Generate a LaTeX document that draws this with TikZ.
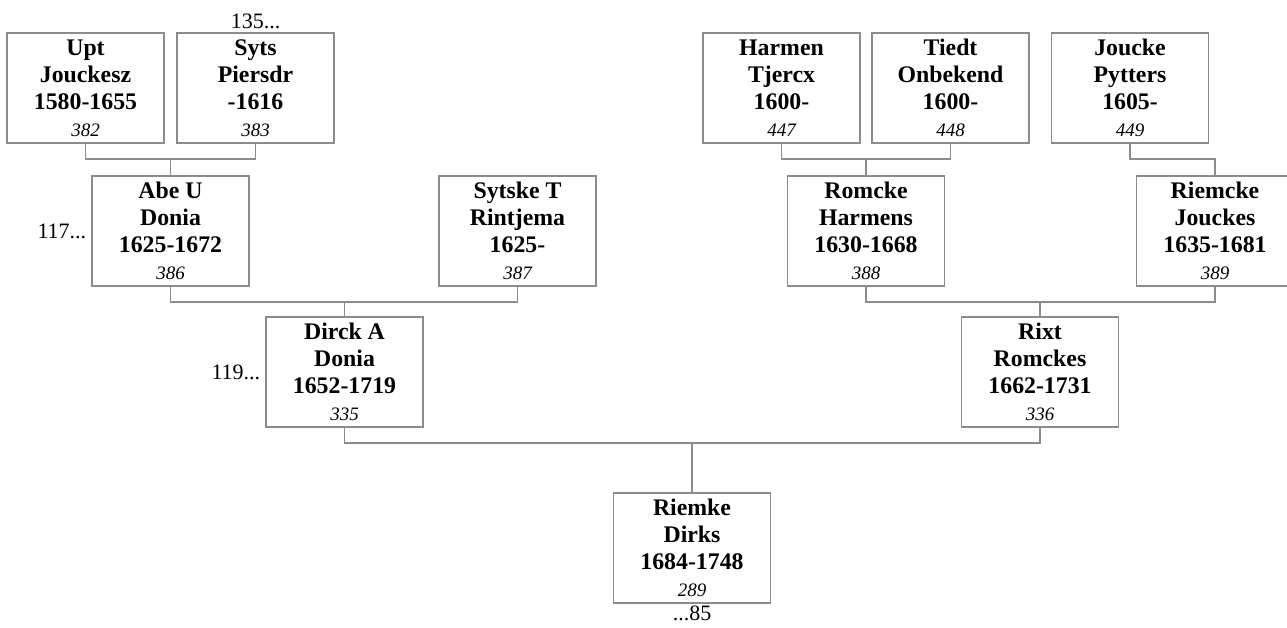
\documentclass[tikz,border=0pt]{standalone}
\usepackage{fontspec}
\setmainfont{Liberation Serif}
\usetikzlibrary{positioning}

\definecolor{boxgray}{RGB}{140,140,140}

\tikzset{
	indiv/.style={draw=boxgray, line width=1.2pt, minimum width=157pt, minimum height=110pt,
		align=center, inner sep=0pt, font=\fontsize{23.8}{27}\selectfont\bfseries},
	link/.style={draw=boxgray, line width=1.2pt},
	more/.style={inner sep=1pt, font=\fontsize{22}{24}\selectfont}
}
\newcommand{\idnum}[1]{{\mdseries\itshape\fontsize{19}{24}\selectfont #1}}

\begin{document}
\begin{tikzpicture}[x=1pt, y=-1pt]
	
	\useasboundingbox (0,0) rectangle (1287,628);
	
	% Generation 4
	\node[indiv] (upt)    at (85.5,88)   {Upt\\Jouckesz\\1580-1655\\\idnum{382}};
	\node[indiv] (syts)   at (255.5,88)  {Syts\\Piersdr\\-1616\\\idnum{383}};
	\node[indiv] (harmen) at (781.5,88)  {Harmen\\Tjercx\\1600-\\\idnum{447}};
	\node[indiv] (tiedt)  at (950.5,88)  {Tiedt\\Onbekend\\1600-\\\idnum{448}};
	\node[indiv] (joucke) at (1130,88)   {Joucke\\Pytters\\1605-\\\idnum{449}};
	
	% Generation 3
	\node[indiv] (abe)     at (170.5,231) {Abe U\\Donia\\1625-1672\\\idnum{386}};
	\node[indiv] (sytske)  at (517.5,231) {Sytske T\\Rintjema\\1625-\\\idnum{387}};
	\node[indiv] (romcke)  at (866,231)   {Romcke\\Harmens\\1630-1668\\\idnum{388}};
	\node[indiv] (riemcke) at (1215,231)  {Riemcke\\Jouckes\\1635-1681\\\idnum{389}};
	
	% Generation 2
	\node[indiv] (dirck) at (344.5,372) {Dirck A\\Donia\\1652-1719\\\idnum{335}};
	\node[indiv] (rixt)  at (1040,372)  {Rixt\\Romckes\\1662-1731\\\idnum{336}};
	
	% Generation 1
	\node[indiv] (riemke) at (692,548) {Riemke\\Dirks\\1684-1748\\\idnum{289}};
	
	% Continuation marks
	\node[more, above=2pt of syts]   {135...};
	\node[more, left=4pt of abe]     {117...};
	\node[more, left=4pt of dirck]   {119...};
	\node[more, below=1pt of riemke] {...85};
	
	% Family junctions
	\coordinate (famabe)     at (abe.north |- 0,159);
	\coordinate (famromcke)  at (romcke.north |- 0,159);
	\coordinate (famriemcke) at (riemcke.north |- 0,159);
	\coordinate (famdirck)   at (dirck.north |- 0,302);
	\coordinate (famrixt)    at (rixt.north |- 0,302);
	\coordinate (famriemke)  at (riemke.north |- 0,443);
	
	% Parent links
	\draw[link] (upt.south) |- (famabe) -| (syts.south);
	\draw[link] (famabe) -- (abe.north);
	\draw[link] (harmen.south) |- (famromcke) -| (tiedt.south);
	\draw[link] (famromcke) -- (romcke.north);
	\draw[link] (joucke.south) |- (famriemcke) -- (riemcke.north);
	\draw[link] (abe.south) |- (famdirck) -| (sytske.south);
	\draw[link] (famdirck) -- (dirck.north);
	\draw[link] (romcke.south) |- (famrixt) -| (riemcke.south);
	\draw[link] (famrixt) -- (rixt.north);
	\draw[link] (dirck.south) |- (famriemke) -| (rixt.south);
	\draw[link] (famriemke) -- (riemke.north);
	
\end{tikzpicture}
\end{document}
